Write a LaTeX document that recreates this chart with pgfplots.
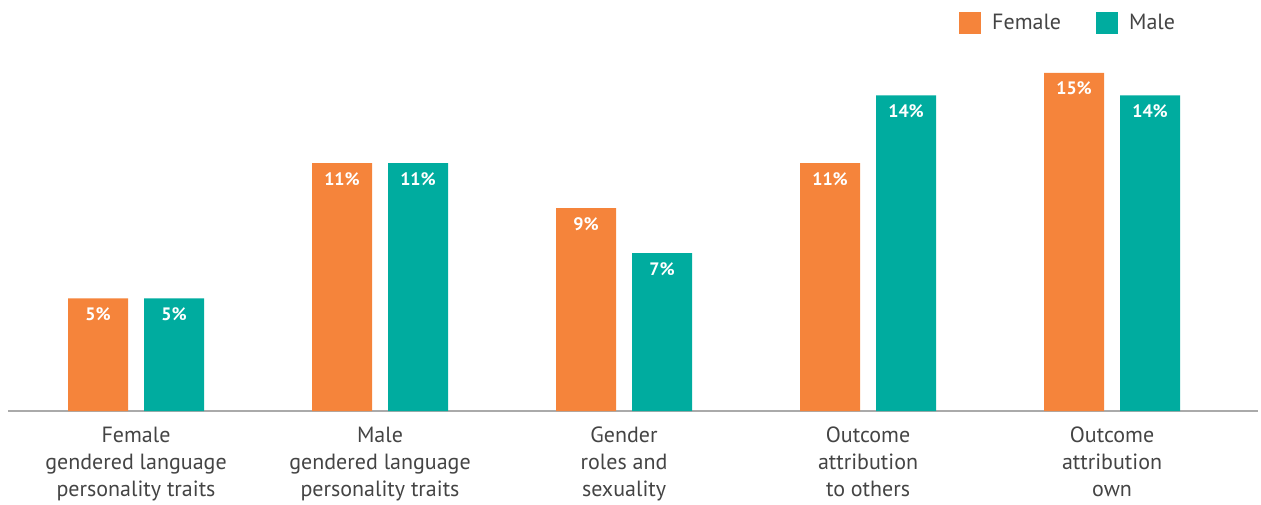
\documentclass[border=0pt]{standalone}
\usepackage{fontspec}
\setmainfont{PT Sans}
\usepackage{pgfplots}
\usepackage{pgfplotstable}
\pgfplotsset{compat=1.18}
\definecolor{fem}{HTML}{F5843B}
\definecolor{mal}{HTML}{00AC9F}
\definecolor{txt}{HTML}{444444}
\definecolor{axgray}{HTML}{AAAAAA}

% share of each category, percent
\pgfplotstableread{
x female male
0 5  5
1 11 11
2 9  7
3 11 14
4 15 14
}\shares

\begin{document}
\begin{tikzpicture}
\useasboundingbox (-8pt,-93pt) rectangle (1253pt,411pt);
\begin{axis}[
    at={(0,0)}, anchor=south west,
    scale only axis,
    width=1250pt, height=411pt,
    xmin=-0.5246, xmax=4.598,
    ymin=0, ymax=18.23,
    axis x line*=bottom,
    axis y line=none,
    x axis line style={draw=axgray, line width=1.5pt, -},
    ytick=\empty,
    xtick={0,1,2,3,4},
    major tick length=0pt,
    xticklabels={
      Female\\gendered language\\personality traits,
      Male\\gendered language\\personality traits,
      Gender\\roles and\\sexuality,
      Outcome\\attribution\\to others,
      Outcome\\attribution\\own
    },
    x tick label style={align=center, text=txt, inner sep=0pt, yshift=-16pt,
      font=\fontsize{22}{27}\selectfont},
    ybar,
    bar width=60pt,
    /pgf/number format/assume math mode=true,
    nodes near coords={\pgfmathprintnumber{\pgfplotspointmeta}\%},
    every node near coord/.append style={anchor=north, text=white, inner sep=0pt,
      yshift=-9pt, font=\bfseries\fontsize{18}{18}\selectfont},
    legend columns=2,
    legend style={at={(axis description cs:0.7608,0.944)}, anchor=west,
      draw=none, fill=none, inner sep=0pt, text=txt,
      font=\fontsize{22}{22}\selectfont,
      nodes={inner xsep=11pt, inner ysep=0pt},
      /tikz/every even column/.append style={column sep=24pt}},
  ]
  \addplot[draw=none, fill=fem, bar shift=-38pt,
    legend image code/.code={\fill[fem] (0pt,-11pt) rectangle (22pt,11pt);}]
    table[x=x, y=female] {\shares};
  \addlegendentry{Female}
  \addplot[draw=none, fill=mal, bar shift=38pt,
    legend image code/.code={\fill[mal] (0pt,-11pt) rectangle (22pt,11pt);}]
    table[x=x, y=male] {\shares};
  \addlegendentry{Male}
\end{axis}
\end{tikzpicture}
\end{document}
